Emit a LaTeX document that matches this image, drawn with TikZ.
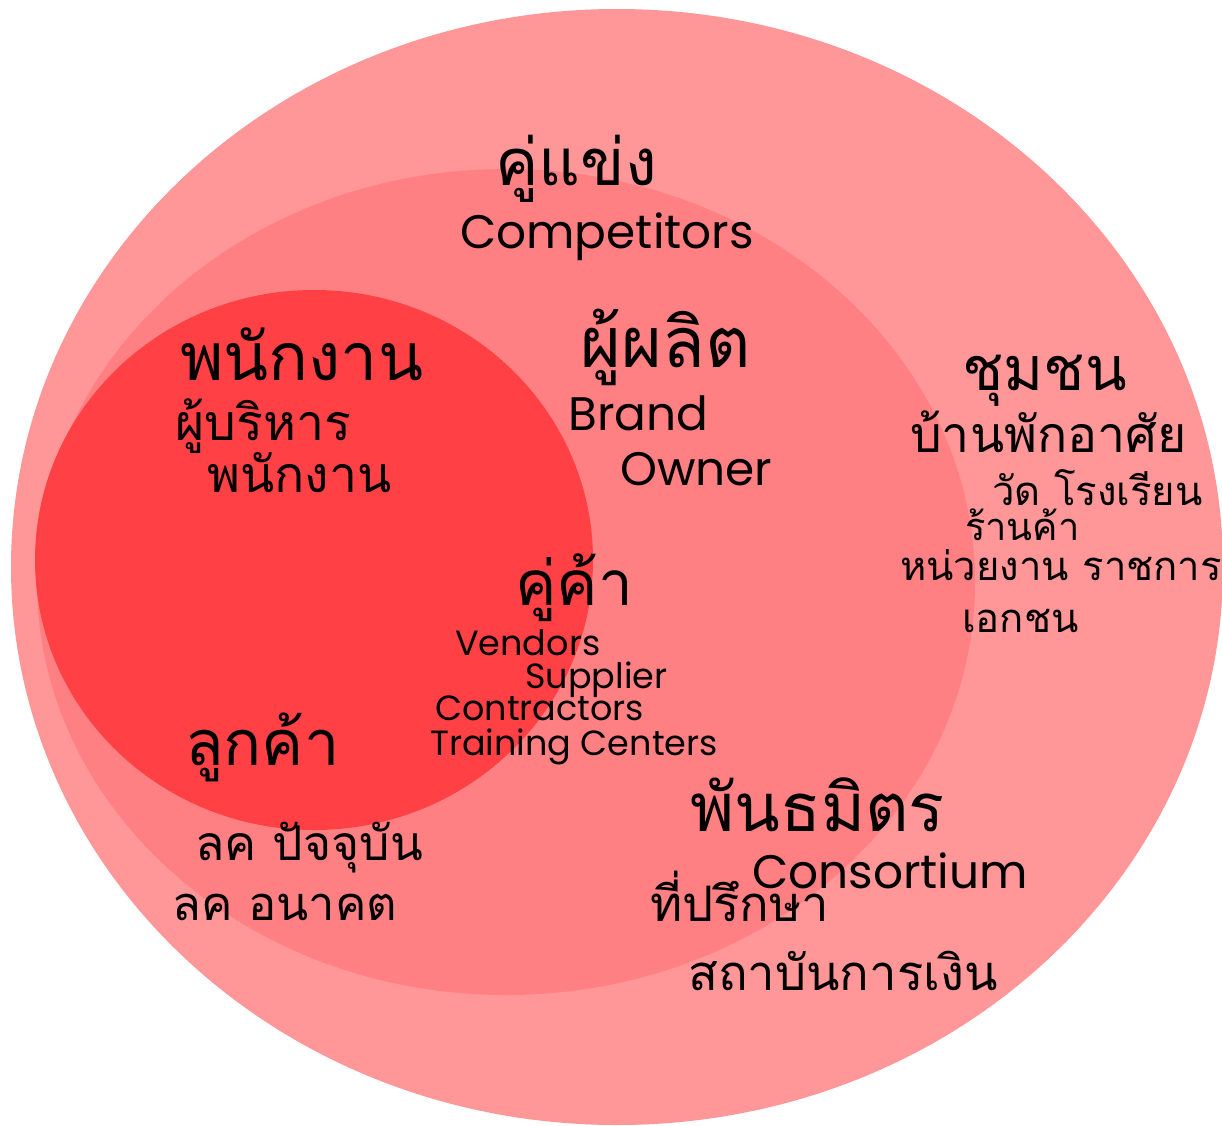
\documentclass[tikz,border=0pt]{standalone}
\usepackage{fontspec}
\newfontfamily\thaifont[Script=Thai]{Loma}
\newfontfamily\engfont{Poppins}
\definecolor{outerring}{HTML}{FF9698}
\definecolor{midring}{HTML}{FF8082}
\definecolor{innerring}{HTML}{FF4044}
\tikzset{
  title/.style={anchor=base west,inner sep=0pt,font=\thaifont\fontsize{#1}{#1}\selectfont},
  title/.default=65,
  thaisub/.style={anchor=base west,inner sep=0pt,font=\thaifont\fontsize{#1}{#1}\selectfont},
  thaisub/.default=49,
  engsub/.style={anchor=base west,inner sep=0pt,font=\engfont\fontsize{47}{49}\selectfont},
  engsmall/.style={anchor=base west,inner sep=0pt,font=\engfont\fontsize{35}{37}\selectfont}
}
\begin{document}
\begin{tikzpicture}[x=1pt,y=-1pt]
    \useasboundingbox (0,0) rectangle (1222,1125);
    \fill[white] (0,0) rectangle (1222,1125);
    \fill[outerring] (617,567) ellipse [x radius=606pt, y radius=558pt];
    \fill[midring] (506,582) ellipse [x radius=469pt, y radius=413pt];
    \fill[innerring] (314,560) ellipse [x radius=279pt, y radius=270pt];
    % competitors
    \node[title] (rival) at (495,185) {คู่แข่ง};
    \node[engsub] (rivalen) at (460,248) {Competitors};
    % staff
    \node[title=66] (staff) at (180,380) {พนักงาน};
    \node[thaisub=50] (exec) at (175,440) {ผู้บริหาร};
    \node[thaisub=50] (worker) at (207,492) {พนักงาน};
    % brand owner
    \node[title=70] (maker) at (580,367) {ผู้ผลิต};
    \node[engsub] (brand) at (568,430) {Brand};
    \node[engsub] (owner) at (620,485) {Owner};
    % community
    \node[title=61] (commune) at (962,390) {ชุมชน};
    \node[thaisub=50] (house) at (910,452) {บ้านพักอาศัย};
    \node[thaisub=40] (temple) at (992,505) {วัด โรงเรียน};
    \node[thaisub=38] (shop) at (965,540) {ร้านค้า};
    \node[thaisub=40] (govt) at (900,580) {หน่วยงาน ราชการ};
    \node[thaisub=40] (priv) at (962,632) {เอกชน};
    % vendors
    \node[title=62] (trade) at (515,605) {คู่ค้า};
    \node[engsmall] (vend) at (455,655) {Vendors};
    \node[engsmall] (supp) at (525,688) {Supplier};
    \node[engsmall] (contr) at (435,720) {Contractors};
    \node[engsmall] (train) at (430,755) {Training Centers};
    % customers
    \node[title=63] (cust) at (185,765) {ลูกค้า};
    \node[thaisub=48] (custnow) at (195,860) {ลค ปัจจุบัน};
    \node[thaisub=47] (custnext) at (172,920) {ลค อนาคต};
    % partners
    \node[title=67] (ally) at (690,831) {พันธมิตร};
    \node[engsub] (consort) at (752,888) {Consortium};
    \node[thaisub] (advisor) at (650,921) {ที่ปรึกษา};
    \node[thaisub] (bank) at (688,990) {สถาบันการเงิน};
\end{tikzpicture}
\end{document}
